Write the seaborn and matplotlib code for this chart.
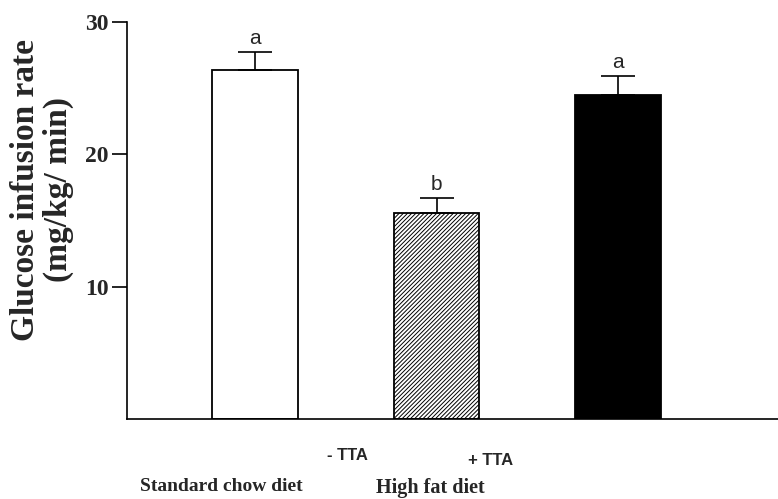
import matplotlib
matplotlib.use("Agg")
import matplotlib.pyplot as plt
import seaborn as sns
import pandas as pd
import numpy as np

# - Data
groups = ["Standard chow", "HFD - TTA", "HFD + TTA"]
gir_mean = [26.4, 15.6, 24.5]
gir_sem = [1.35, 1.1, 1.4]
sig_letters = ["a", "b", "a"]
bar_colors = ["white", "white", "black"]
bar_hatches = [None, "////////", None]
y_ticks = [10, 20, 30]

df = pd.DataFrame({"group": groups, "gir": gir_mean})

# - Plot settings
sns.set_theme(style="ticks")
plt.rcParams["font.family"] = ["Liberation Serif", "DejaVu Serif"]
plt.rcParams["hatch.linewidth"] = 0.7
plt.rcParams["hatch.color"] = "black"

fig = plt.figure(figsize=(7.78, 4.99), dpi=100)
ax = fig.add_axes([0.163, 0.160, 0.837, 0.796])

sns.barplot(data=df, x="group", y="gir", hue="group",
            palette=dict(zip(groups, bar_colors)), legend=False,
            width=0.47, edgecolor="black", linewidth=1.3, ax=ax)

for patch, h in zip(ax.patches, bar_hatches):
    if h:
        patch.set_hatch(h)

# upper error bars only
xpos = np.arange(len(groups))
ax.errorbar(xpos, gir_mean, yerr=[np.zeros(len(groups)), gir_sem],
            fmt="none", ecolor="black", elinewidth=1.2, capsize=12,
            capthick=1.2, zorder=3)

for x, m, e, lab in zip(xpos, gir_mean, gir_sem, sig_letters):
    ax.text(x, m + e + 0.3, lab, ha="center", va="bottom",
            fontsize=15, family="Liberation Sans")

ax.set_xlim(-0.705, 2.88)
ax.set_ylim(0, 30)
ax.set_yticks(y_ticks)
ax.set_yticklabels([str(t) for t in y_ticks], fontsize=17, fontweight="bold")
ax.set_xticks([])
ax.set_xlabel("")
ax.set_ylabel("")
ax.tick_params(axis="y", length=11, width=1.2, color="black", pad=2)
sns.despine(ax=ax)
for s in ["left", "bottom"]:
    ax.spines[s].set_linewidth(1.2)
    ax.spines[s].set_color("black")

# y label (two lines)
fig.text(0.054, 0.62, "Glucose infusion rate\n(mg/kg/ min)", rotation=90,
         ha="center", va="center", multialignment="center",
         fontsize=24, fontweight="bold", linespacing=1.05)

# group labels under the axis
fig.text(0.446, 0.088, "- TTA", ha="center", va="center",
         fontsize=12, fontweight="bold", family="Liberation Sans")
fig.text(0.630, 0.078, "+ TTA", ha="center", va="center",
         fontsize=12, fontweight="bold", family="Liberation Sans")
fig.text(0.285, 0.026, "Standard chow diet", ha="center", va="center",
         fontsize=14, fontweight="bold")
fig.text(0.553, 0.022, "High fat diet", ha="center", va="center",
         fontsize=14.5, fontweight="bold")

fig.savefig("out.png", dpi=100)
